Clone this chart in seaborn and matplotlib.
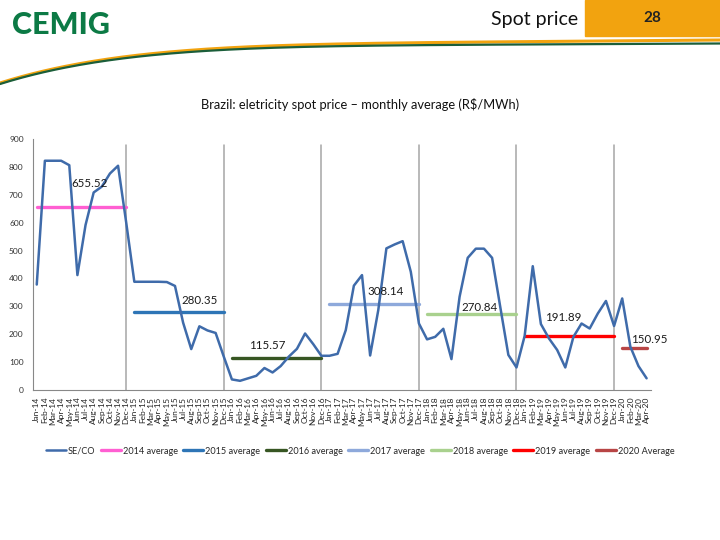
import numpy as np
import pandas as pd
import matplotlib.pyplot as plt
import seaborn as sns
from matplotlib.lines import Line2D
from matplotlib.patches import Rectangle

# month labels Jan-14 .. Apr-20
month_names = ['Jan', 'Feb', 'Mar', 'Apr', 'May', 'Jun', 'Jul', 'Aug', 'Sep', 'Oct', 'Nov', 'Dec']
years = ['14', '15', '16', '17', '18', '19', '20']
months = [f'{m}-{y}' for y in years for m in month_names][:76]

# SE/CO monthly spot price (R$/MWh)
se_co = [378, 823, 823, 823, 807, 412, 592, 709, 730, 777, 805, 601,
         388, 388, 388, 388, 387, 373, 241, 146, 228, 213, 204, 119,
         37, 32, 41, 50, 78, 62, 85, 119, 147, 202, 164, 122,
         122, 129, 214, 374, 412, 123, 286, 508, 522, 534, 424, 238,
         181, 190, 219, 110, 334, 474, 507, 507, 474, 298, 125, 80,
         193, 444, 236, 184, 143, 80, 190, 238, 220, 274, 319, 229,
         328, 155, 85, 41]

avg_labels = ['2014 average', '2015 average', '2016 average', '2017 average',
              '2018 average', '2019 average', '2020 Average']
avg_values = [655.52, 280.35, 115.57, 308.14, 270.84, 191.89, 150.95]
avg_colors = ['#FF5FD2', '#2E75B6', '#375623', '#8EA9DB', '#A9D18E', '#FF0000', '#B84545']
line_color = '#3F6BAA'

df = pd.DataFrame({'idx': np.arange(len(se_co)), 'month': months, 'value': se_co})

sns.set_style('white')
plt.rcParams['font.family'] = ['Lato', 'DejaVu Sans']

fig = plt.figure(figsize=(7.2, 5.4), dpi=100)
ax = fig.add_axes([0.0454, 0.2783, 0.8583, 0.4637])

# year separators (at each December)
for yi in range(6):
    ax.plot([yi * 12 + 11, yi * 12 + 11], [0, 880], color='#A6A6A6', lw=1.1, zorder=1)

sns.lineplot(data=df, x='idx', y='value', ax=ax, color=line_color, lw=1.8, zorder=3)

# yearly averages
label_dx = [6.5, 20 - 12, 28.4 - 24, 42.9 - 36, 54.4 - 48, 64.8 - 60, 75.3 - 72]
label_dy = [85, 42, 42, 44, 23, 66, 30]
for yi, (val, col) in enumerate(zip(avg_values, avg_colors)):
    start = yi * 12
    end = min(start + 11, len(se_co) - 1)
    seg = pd.DataFrame({'x': [start, end], 'y': [val, val]})
    sns.lineplot(data=seg, x='x', y='y', ax=ax, color=col, lw=2.4, zorder=2)
    ax.text(start + label_dx[yi], val + label_dy[yi], f'{val:.2f}', ha='center', va='center',
            fontsize=8.3, color='#1A1A1A', zorder=4)

ax.set_xlim(-0.5, len(se_co) - 0.5)
ax.set_ylim(0, 900)
ax.set_yticks(range(0, 901, 100))
ax.set_xticks(df['idx'])
ax.set_xticklabels(months, rotation=90, fontsize=6, color='#222222')
ax.tick_params(axis='y', labelsize=6, colors='#333333', length=3, color='#888888')
ax.tick_params(axis='x', length=3, color='#888888', pad=2)
ax.set_xlabel('')
ax.set_ylabel('')
for side in ['top', 'right']:
    ax.spines[side].set_visible(False)
for side in ['left', 'bottom']:
    ax.spines[side].set_color('#888888')
    ax.spines[side].set_linewidth(0.8)

fig.text(0.5, 1 - 104 / 540, 'Brazil: eletricity spot price \u2013 monthly average (R$/MWh)',
         ha='center', va='center', fontsize=9.3, color='#111111')

# legend
handles = [Line2D([], [], color=line_color, lw=1.8)] + \
          [Line2D([], [], color=c, lw=2.4) for c in avg_colors]
labels = ['SE/CO'] + avg_labels
fig.legend(handles, labels, loc='center', bbox_to_anchor=(0.5, 1 - 451 / 540), ncol=8,
           frameon=False, fontsize=6.6, handlelength=2.2, columnspacing=0.6, handletextpad=0.2)

# header decoration
fig.add_artist(Rectangle((585 / 720, 1 - 36 / 540), 135 / 720, 36 / 540,
                         transform=fig.transFigure, color='#F2A30F', zorder=0))
fig.text(652 / 720, 1 - 18 / 540, '28', ha='center', va='center', fontsize=11,
         fontweight='bold', color='#222222')
fig.text(578 / 720, 1 - 19 / 540, 'Spot price', ha='right', va='center', fontsize=14,
         color='#111111')
fig.text(12 / 720, 1 - 25 / 540, 'CEMIG', ha='left', va='center', fontsize=22,
         fontweight='black', color='#0C7A45')

t = np.linspace(0, 1, 200)
sx = t * 720
sy_orange = 40 + 37 * (1 - t) ** 6 + 6 * (1 - t)
sy_green = sy_orange + 2.5 * t + 1
fig.add_artist(Line2D(sx / 720, 1 - sy_orange / 540, transform=fig.transFigure,
                      color='#F2A30F', lw=2.2))
fig.add_artist(Line2D(sx / 720, 1 - sy_green / 540, transform=fig.transFigure,
                      color='#1B5E3A', lw=1.6))

fig.savefig('out.png', dpi=100)
